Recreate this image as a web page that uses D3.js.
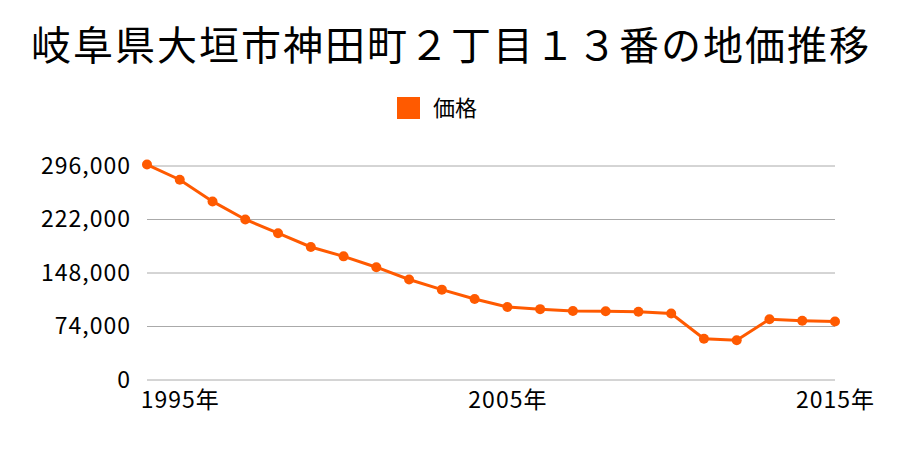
<!DOCTYPE html>
<html><head><meta charset="utf-8">
<script src="https://cdn.jsdelivr.net/npm/d3@7"></script>
<style>body{margin:0;background:#fff}svg{display:block}</style>
</head><body>
<script>
const years = [1994,1995,1996,1997,1998,1999,2000,2001,2002,2003,2004,2005,2006,2007,2008,2009,2010,2011,2012,2013,2014,2015];
const prices = [298000,277000,247000,222000,203000,184000,171000,156000,139000,125000,112000,101000,98000,95500,95000,94500,92000,57000,55000,84000,82000,81000];
const yTicks = [0,74000,148000,222000,296000];
const xLabelYears = [1995,2005,2015];
const title = "岐阜県大垣市神田町２丁目１３番の地価推移";
const seriesName = "価格";

const W=900,H=450;
const font = "'Noto Sans CJK JP', sans-serif";
const color = "#ff5a00";
const svg = d3.select("body").append("svg").attr("width",W).attr("height",H);

const x = d3.scalePoint().domain(years).range([147,835]);
const y = d3.scaleLinear().domain([0,296000]).range([380,166]);

svg.append("text").attr("x",451).attr("y",60).attr("text-anchor","middle")
  .attr("font-family",font).attr("font-size",40).attr("letter-spacing",2).attr("fill","#000").text(title);

svg.append("rect").attr("x",397).attr("y",97).attr("width",23).attr("height",22).attr("fill",color);
svg.append("text").attr("x",433).attr("y",116).attr("font-family",font).attr("font-size",22).text(seriesName);

const yAxis = d3.axisLeft(y).tickValues(yTicks).tickSize(0).tickPadding(16).tickFormat(d3.format(","));
const gy = svg.append("g").attr("transform","translate(147,0)").call(yAxis);
gy.select(".domain").remove();
gy.selectAll("text").attr("font-family",font).attr("font-size",23).attr("letter-spacing",1).attr("fill","#000");

svg.append("g").selectAll("line").data(yTicks).join("line")
  .attr("x1",147).attr("x2",835).attr("y1",d=>y(d)).attr("y2",d=>y(d))
  .attr("stroke","#aaa").attr("stroke-width",1);

const xAxis = d3.axisBottom(x).tickValues(xLabelYears).tickSize(0).tickPadding(12).tickFormat(d=>d+"年");
const gx = svg.append("g").attr("transform","translate(0,380)").call(xAxis);
gx.select(".domain").remove();
gx.selectAll("text").attr("font-family",font).attr("font-size",23).attr("letter-spacing",1).attr("fill","#000");

const line = d3.line().x((d,i)=>x(years[i])).y(d=>y(d));
svg.append("path").datum(prices).attr("d",line).attr("fill","none").attr("stroke",color).attr("stroke-width",3);
svg.append("g").selectAll("circle").data(prices).join("circle")
  .attr("cx",(d,i)=>x(years[i])).attr("cy",d=>y(d)).attr("r",5).attr("fill",color);
</script>
</body></html>
